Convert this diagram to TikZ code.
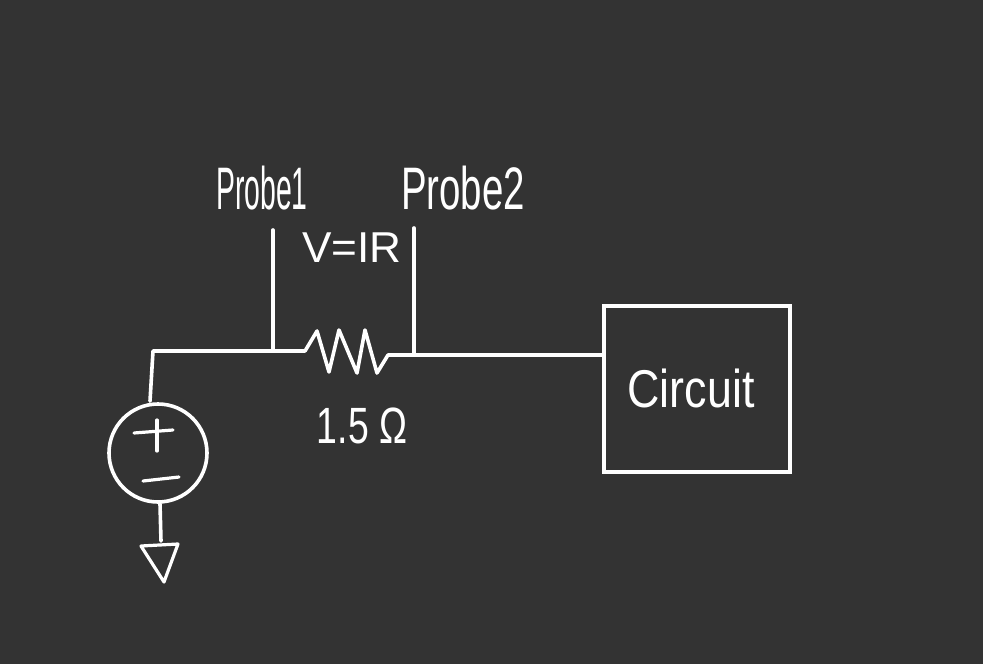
\documentclass[tikz,border=0pt]{standalone}
\usepackage{fontspec}
\setmainfont{Liberation Sans}
\definecolor{bgdark}{HTML}{333333}
\tikzset{
  wire/.style={draw=white,line width=3.6pt,line join=round,line cap=round},
  pen/.style={draw=white,line width=3.2pt,line cap=round,line join=round},
  hand/.style={text=white,inner sep=0pt,anchor=center},
}
\begin{document}
\begin{tikzpicture}[x=1pt,y=-1pt]
\useasboundingbox[fill=bgdark] (0,0) rectangle (983,664);
% named points
\coordinate (corner) at (153,351);
\coordinate (p1top) at (273,230);
\coordinate (p1) at (273,351);
\coordinate (p2top) at (414,228);
\coordinate (p2) at (414,355);
\coordinate (rin) at (305,351);
\coordinate (rout) at (388,355);
\coordinate (gtop) at (161,541);
\coordinate (gl) at (141,546);
\coordinate (gr) at (178,544);
\coordinate (gb) at (164,582);
% main parts
\node[draw=white,line width=3.6pt,minimum width=186pt,minimum height=166pt,inner sep=0pt] (box) at (697,389) {};
\node[circle,draw=white,line width=3.6pt,minimum size=98pt,inner sep=0pt] (src) at (158,453) {};
% wires
\draw[wire] (src.north) ++(-8,-1) coordinate (srctop) -- (corner) -- (p1) -- (rin);
\draw[wire] (p1top) -- (p1);
\draw[wire] (p2top) -- (p2);
\draw[wire] (rin) -- (317,331) -- (329,372) -- (339,330) -- (357,373) -- (365,330) -- (377,373) -- (rout) -- (p2);
\draw[wire] (p2) -- (box.west |- p2);
\draw[wire] (src.south) ++(2,0) -- (gtop);
\draw[pen] (gl) -- (gr) -- (gb) -- cycle;
% source signs
\draw[pen] (134,433) -- (173,430);
\draw[pen] (157,420) -- (157,451);
\draw[pen] (143,481) -- (179,477);
% labels
\node[hand,font=\fontsize{40}{40}\selectfont,xscale=.71,yscale=1.5] (probeA) at (262,188) {Probe1};
\node[hand,font=\fontsize{40}{40}\selectfont,xscale=.96,yscale=1.5] (probeB) at (463,188) {Probe2};
\node[hand,font=\fontsize{32}{32}\selectfont,xscale=1.38,yscale=1.35] (ohm) at (352,248) {V=IR};
\node[hand,font=\fontsize{34}{34}\selectfont,xscale=1.1,yscale=1.5] (res) at (362,426) {1.5 Ω};
\node[hand,font=\fontsize{38}{38}\selectfont,xscale=1.18,yscale=1.4] (cir) at (691,388) {Circuit};
\end{tikzpicture}
\end{document}
